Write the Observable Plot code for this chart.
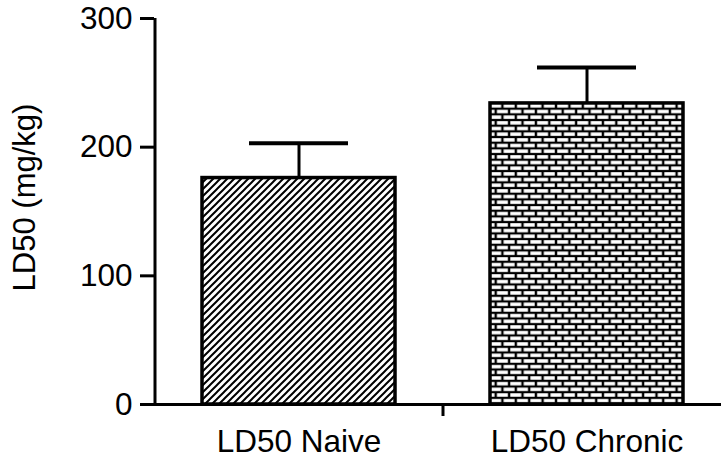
<!DOCTYPE html>
<html>
<head>
<meta charset="utf-8">
<script src="https://cdn.jsdelivr.net/npm/d3@7"></script>
<script src="https://cdn.jsdelivr.net/npm/@observablehq/plot@0.6"></script>
<style>
  html, body { margin: 0; padding: 0; background: #fff; }
</style>
</head>
<body>
<div id="chart"></div>
<script>
const categories = ["LD50 Naive", "LD50 Chronic"];
const means = [176, 234];
const errors = [27, 28];
const patterns = ["url(#hatch)", "url(#brick)"];
const yTicks = [0, 100, 200, 300];
const yLabel = "LD50 (mg/kg)";

const data = categories.map((c, i) => ({
  cat: c, value: means[i], upper: means[i] + errors[i], fill: patterns[i]
}));

const W = 721, H = 461;
const mL = 154, mT = 18, mB = 57;
const xRange = [154, 730];
const pInner = 0.33, pOuter = 0.165;
const step = (xRange[1] - xRange[0]) / (categories.length - pInner + 2 * pOuter);
const halfStep = step / 2;
const font = "'Liberation Sans', Arial, Helvetica, sans-serif";

const svg = Plot.plot({
  width: W,
  height: H,
  marginLeft: mL,
  marginRight: 0,
  marginTop: mT,
  marginBottom: mB,
  style: { fontFamily: font, color: "black", background: "white" },
  x: { domain: categories, range: xRange, paddingInner: pInner, paddingOuter: pOuter, axis: null },
  y: { domain: [0, 300], axis: null },
  color: { type: "identity" },
  marks: [
    Plot.barY(data, { x: "cat", y: "value", fill: "fill", stroke: "black", strokeWidth: 3.5 }),
    Plot.ruleX(data, { x: "cat", y1: "value", y2: "upper", stroke: "black", strokeWidth: 3 }),
    Plot.tickY(data, { x: "cat", y: "upper", stroke: "black", strokeWidth: 4, insetLeft: 47, insetRight: 47 }),
    Plot.ruleY([0], { stroke: "black", strokeWidth: 3 }),
    Plot.ruleX([categories[0]], { y1: 0, y2: 300, dx: -halfStep, stroke: "black", strokeWidth: 3 }),
    Plot.axisY({ ticks: yTicks, tickSize: 14, tickPadding: 8, fontSize: 31.5, strokeWidth: 3, label: null }),
    Plot.axisX({ tickSize: 0, tickPadding: 25, fontSize: 31.5, label: null }),
    Plot.axisX({ ticks: [categories[0]], tickSize: 12, tickFormat: () => "", dx: halfStep, strokeWidth: 3, label: null }),
    Plot.text([yLabel], { frameAnchor: "left", textAnchor: "middle", rotate: -90, dx: -129, dy: -14, fontSize: 31, fill: "black" })
  ]
});

const defs = d3.select(svg).insert("defs", ":first-child");
const hatch = defs.append("pattern")
  .attr("id", "hatch").attr("patternUnits", "userSpaceOnUse")
  .attr("width", 7).attr("height", 7);
hatch.append("rect").attr("width", 7).attr("height", 7).attr("fill", "white");
hatch.append("path").attr("d", "M-1,1 l2,-2 M0,7 l7,-7 M6,8 l2,-2")
  .attr("stroke", "black").attr("stroke-width", 2);

const bw = 13.4, bh = 5.67;
const brick = defs.append("pattern")
  .attr("id", "brick").attr("patternUnits", "userSpaceOnUse")
  .attr("x", 489).attr("y", 103)
  .attr("width", bw).attr("height", bh * 2);
brick.append("rect").attr("width", bw).attr("height", bh * 2).attr("fill", "black");
const mw = 2.4, mh = 2.2;
brick.append("rect").attr("x", mw / 2).attr("y", mh / 2).attr("width", bw - mw).attr("height", bh - mh).attr("fill", "white");
brick.append("rect").attr("x", bw / 2 + mw / 2).attr("y", bh + mh / 2).attr("width", bw - mw).attr("height", bh - mh).attr("fill", "white");
brick.append("rect").attr("x", -bw / 2 + mw / 2).attr("y", bh + mh / 2).attr("width", bw - mw).attr("height", bh - mh).attr("fill", "white");

document.getElementById("chart").appendChild(svg);
</script>
</body>
</html>
